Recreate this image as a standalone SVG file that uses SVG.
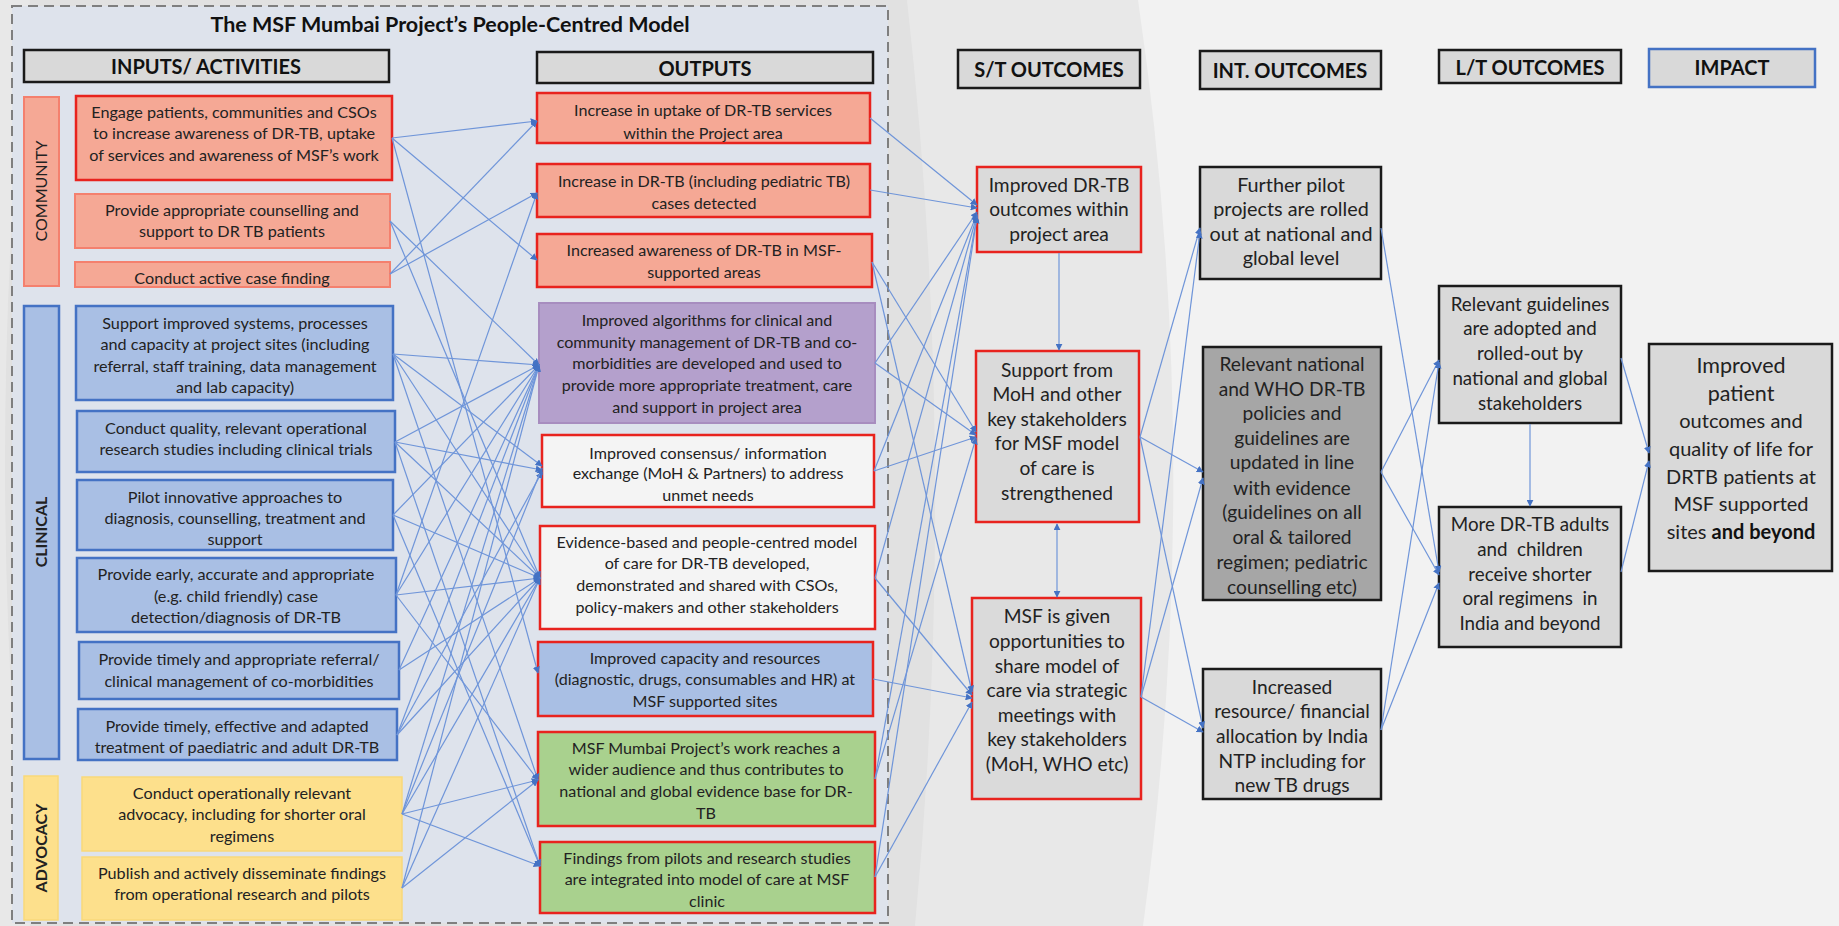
<svg xmlns="http://www.w3.org/2000/svg" width="1839" height="926" viewBox="0 0 1839 926">
<defs>
<marker id="ar" viewBox="0 0 10 10" refX="9" refY="5" markerWidth="7" markerHeight="7" orient="auto" markerUnits="userSpaceOnUse">
<path d="M0,0 L10,5 L0,10 Z" fill="#4472c4"/>
</marker>
<marker id="as" viewBox="0 0 10 10" refX="1" refY="5" markerWidth="7" markerHeight="7" orient="auto" markerUnits="userSpaceOnUse">
<path d="M10,0 L0,5 L10,10 Z" fill="#4472c4"/>
</marker>
<style>
text{font-family:Lato,"Liberation Sans",sans-serif;fill:#222;text-anchor:middle}
.t{font-size:16.2px}
.o{font-size:16.1px}
.m{font-size:19.2px}
.h{font-size:20px;font-weight:bold;fill:#111}
.side{font-size:16px}
.hdr{fill:#d9d9d9;stroke:#1a1a1a;stroke-width:2.5}
.com{fill:#f5a895;stroke:#f4806e;stroke-width:2}
.comr{fill:#f5a895;stroke:#e8231e;stroke-width:2.5}
.cli{fill:#a9bfe4;stroke:#4472c4;stroke-width:2.5}
.adv{fill:#fde08c;stroke:#f9d97a;stroke-width:1.5}
.pur{fill:#b4a0cc;stroke:#a78dbf;stroke-width:2}
.wr{fill:#f4f4f4;stroke:#e8231e;stroke-width:2.5}
.br{fill:#a9bfe4;stroke:#e8231e;stroke-width:2.5}
.gr{fill:#a9d18e;stroke:#e8231e;stroke-width:2.5}
.st{fill:#dadada;stroke:#e8231e;stroke-width:2.5}
.gk{fill:#d9d9d9;stroke:#1a1a1a;stroke-width:2.5}
.dk{fill:#a6a6a6;stroke:#1a1a1a;stroke-width:2.5}
#connectors line{stroke:#6f95d9;stroke-width:1.2;fill:none;marker-end:url(#ar)}
</style>
</defs>
<!-- background -->
<rect x="0" y="0" width="1839" height="926" fill="#f2f2f2"/>
<path d="M0,0 L1138,0 Q1206,463 1143,926 L0,926 Z" fill="#e8e8e8"/>
<path d="M30,0 L907,0 Q959,463 915,926 L30,926 Q-20,463 30,0 Z" fill="#e1e1e1"/>
<rect x="12" y="6" width="876" height="917" fill="#dee3ec" stroke="#7f7f7f" stroke-width="2" stroke-dasharray="10,6"/>
<text x="450" y="32" style="font-size:21.5px;font-weight:bold;fill:#111">The MSF Mumbai Project’s People-Centred Model</text>

<!-- headers -->
<g id="hdr-inputs"><rect x="24" y="50" width="365" height="32" class="hdr"/><text x="206" y="74" class="h">INPUTS/ ACTIVITIES</text></g>
<g id="hdr-outputs"><rect x="537" y="52" width="336" height="31" class="hdr"/><text x="705" y="76" class="h">OUTPUTS</text></g>
<g id="hdr-st"><rect x="958" y="50" width="182" height="38" class="hdr"/><text x="1049" y="77" class="h">S/T OUTCOMES</text></g>
<g id="hdr-int"><rect x="1200" y="51" width="181" height="38" class="hdr"/><text x="1290" y="78" class="h">INT. OUTCOMES</text></g>
<g id="hdr-lt"><rect x="1439" y="50" width="182" height="33" class="hdr"/><text x="1530" y="75" class="h">L/T OUTCOMES</text></g>
<g id="hdr-impact"><rect x="1649" y="49" width="166" height="38" fill="#d9d9d9" stroke="#4472c4" stroke-width="2.5"/><text x="1732" y="75" class="h">IMPACT</text></g>

<!-- side bars -->
<g id="bar-community"><rect x="24" y="97" width="35" height="189" class="com"/><text transform="translate(47,191) rotate(-90)" class="side">COMMUNITY</text></g>
<g id="bar-clinical"><rect x="24" y="306" width="35" height="453" class="cli"/><text transform="translate(47,532) rotate(-90)" class="side" style="font-weight:bold">CLINICAL</text></g>
<g id="bar-advocacy"><rect x="24" y="776" width="34" height="144" class="adv"/><text transform="translate(47,848) rotate(-90)" class="side" style="font-weight:bold">ADVOCACY</text></g>

<!-- inputs -->
<g id="a1"><rect x="76" y="96" width="316" height="84" class="comr"/><text class="t"><tspan x="234" y="118">Engage patients, communities and CSOs</tspan><tspan x="234" y="139">to increase awareness of DR-TB, uptake</tspan><tspan x="234" y="161">of services and awareness of MSF’s work</tspan></text></g>
<g id="a2"><rect x="75" y="194" width="315" height="54" class="com"/><text class="t"><tspan x="232" y="216">Provide appropriate counselling and</tspan><tspan x="232" y="237">support to DR TB patients</tspan></text></g>
<g id="a3"><rect x="75" y="262" width="315" height="25" class="com"/><text class="t"><tspan x="232" y="284">Conduct active case finding</tspan></text></g>
<g id="b1"><rect x="76" y="306" width="317" height="94" class="cli"/><text class="t"><tspan x="235" y="329">Support improved systems, processes</tspan><tspan x="235" y="350">and capacity at project sites (including</tspan><tspan x="235" y="372">referral, staff training, data management</tspan><tspan x="235" y="393">and lab capacity)</tspan></text></g>
<g id="b2"><rect x="77" y="411" width="318" height="61" class="cli"/><text class="t"><tspan x="236" y="434">Conduct quality, relevant operational</tspan><tspan x="236" y="455">research studies including clinical trials</tspan></text></g>
<g id="b3"><rect x="77" y="480" width="316" height="70" class="cli"/><text class="t"><tspan x="235" y="503">Pilot innovative approaches to</tspan><tspan x="235" y="524">diagnosis, counselling, treatment and</tspan><tspan x="235" y="545">support</tspan></text></g>
<g id="b4"><rect x="77" y="558" width="319" height="74" class="cli"/><text class="t"><tspan x="236" y="580">Provide early, accurate and appropriate</tspan><tspan x="236" y="602">(e.g. child friendly) case</tspan><tspan x="236" y="623">detection/diagnosis of DR-TB</tspan></text></g>
<g id="b5"><rect x="79" y="642" width="320" height="57" class="cli"/><text class="t"><tspan x="239" y="665">Provide timely and appropriate referral/</tspan><tspan x="239" y="687">clinical management of co-morbidities</tspan></text></g>
<g id="b6"><rect x="78" y="709" width="319" height="51" class="cli"/><text class="t"><tspan x="237" y="732">Provide timely, effective and adapted</tspan><tspan x="237" y="753">treatment of paediatric and adult DR-TB</tspan></text></g>
<g id="c1"><rect x="82" y="777" width="320" height="74" class="adv"/><text class="t"><tspan x="242" y="799">Conduct operationally relevant</tspan><tspan x="242" y="820">advocacy, including for shorter oral</tspan><tspan x="242" y="842">regimens</tspan></text></g>
<g id="c2"><rect x="82" y="857" width="320" height="63" class="adv"/><text class="t"><tspan x="242" y="879">Publish and actively disseminate findings</tspan><tspan x="242" y="900">from operational research and pilots</tspan></text></g>

<!-- outputs -->
<g id="o1"><rect x="537" y="93" width="333" height="50" class="comr"/><text class="o"><tspan x="703" y="116">Increase in uptake of DR-TB services</tspan><tspan x="703" y="139">within the Project area</tspan></text></g>
<g id="o2"><rect x="537" y="164" width="333" height="53" class="comr"/><text class="o"><tspan x="704" y="187">Increase in DR-TB (including pediatric TB)</tspan><tspan x="704" y="209">cases detected</tspan></text></g>
<g id="o3"><rect x="537" y="234" width="335" height="53" class="comr"/><text class="o"><tspan x="704" y="256">Increased awareness of DR-TB in MSF-</tspan><tspan x="704" y="278">supported areas</tspan></text></g>
<g id="o4"><rect x="539" y="303" width="336" height="120" class="pur"/><text class="o"><tspan x="707" y="326">Improved algorithms for clinical and</tspan><tspan x="707" y="348">community management of DR-TB and co-</tspan><tspan x="707" y="369">morbidities are developed and used to</tspan><tspan x="707" y="391">provide more appropriate treatment, care</tspan><tspan x="707" y="413">and support in project area</tspan></text></g>
<g id="o5"><rect x="542" y="435" width="332" height="72" class="wr"/><text class="o"><tspan x="708" y="459">Improved consensus/ information</tspan><tspan x="708" y="479">exchange (MoH &amp; Partners) to address</tspan><tspan x="708" y="501">unmet needs</tspan></text></g>
<g id="o6"><rect x="540" y="526" width="335" height="103" class="wr"/><text class="o"><tspan x="707" y="548">Evidence-based and people-centred model</tspan><tspan x="707" y="569">of care for DR-TB developed,</tspan><tspan x="707" y="591">demonstrated and shared with CSOs,</tspan><tspan x="707" y="613">policy-makers and other stakeholders</tspan></text></g>
<g id="o7"><rect x="538" y="642" width="335" height="74" class="br"/><text class="o"><tspan x="705" y="664">Improved capacity and resources</tspan><tspan x="705" y="685">(diagnostic, drugs, consumables and HR) at</tspan><tspan x="705" y="707">MSF supported sites</tspan></text></g>
<g id="o8"><rect x="538" y="732" width="337" height="94" class="gr"/><text class="o"><tspan x="706" y="754">MSF Mumbai Project’s work reaches a</tspan><tspan x="706" y="775">wider audience and thus contributes to</tspan><tspan x="706" y="797">national and global evidence base for DR-</tspan><tspan x="706" y="819">TB</tspan></text></g>
<g id="o9"><rect x="540" y="842" width="335" height="71" class="gr"/><text class="o"><tspan x="707" y="864">Findings from pilots and research studies</tspan><tspan x="707" y="885">are integrated into model of care at MSF</tspan><tspan x="707" y="907">clinic</tspan></text></g>

<!-- S/T outcomes -->
<g id="st1"><rect x="977" y="167" width="164" height="85" class="st"/><text class="m"><tspan x="1059" y="192">Improved DR-TB</tspan><tspan x="1059" y="216">outcomes within</tspan><tspan x="1059" y="241">project area</tspan></text></g>
<g id="st2"><rect x="976" y="351" width="163" height="171" class="st"/><text class="m"><tspan x="1057" y="377">Support from</tspan><tspan x="1057" y="401">MoH and other</tspan><tspan x="1057" y="426">key stakeholders</tspan><tspan x="1057" y="450">for MSF model</tspan><tspan x="1057" y="475">of care is</tspan><tspan x="1057" y="500">strengthened</tspan></text></g>
<g id="st3"><rect x="972" y="598" width="169" height="201" class="st"/><text class="m"><tspan x="1057" y="623">MSF is given</tspan><tspan x="1057" y="648">opportunities to</tspan><tspan x="1057" y="673">share model of</tspan><tspan x="1057" y="697">care via strategic</tspan><tspan x="1057" y="722">meetings with</tspan><tspan x="1057" y="746">key stakeholders</tspan><tspan x="1057" y="771">(MoH, WHO etc)</tspan></text></g>

<!-- INT outcomes -->
<g id="int1"><rect x="1200" y="167" width="181" height="112" class="gk"/><text class="m" style="font-size:19.8px"><tspan x="1291" y="192">Further pilot</tspan><tspan x="1291" y="216">projects are rolled</tspan><tspan x="1291" y="241">out at national and</tspan><tspan x="1291" y="265">global level</tspan></text></g>
<g id="int2"><rect x="1203" y="347" width="178" height="253" class="dk"/><text class="m"><tspan x="1292" y="371">Relevant national</tspan><tspan x="1292" y="396">and WHO DR-TB</tspan><tspan x="1292" y="420">policies and</tspan><tspan x="1292" y="445">guidelines are</tspan><tspan x="1292" y="469">updated in line</tspan><tspan x="1292" y="495">with evidence</tspan><tspan x="1292" y="519">(guidelines on all</tspan><tspan x="1292" y="544">oral &amp; tailored</tspan><tspan x="1292" y="569">regimen; pediatric</tspan><tspan x="1292" y="594">counselling etc)</tspan></text></g>
<g id="int3"><rect x="1203" y="669" width="178" height="130" class="gk"/><text class="m"><tspan x="1292" y="694">Increased</tspan><tspan x="1292" y="718">resource/ financial</tspan><tspan x="1292" y="743">allocation by India</tspan><tspan x="1292" y="768">NTP including for</tspan><tspan x="1292" y="792">new TB drugs</tspan></text></g>

<!-- L/T outcomes -->
<g id="lt1"><rect x="1439" y="286" width="182" height="137" class="gk"/><text class="m" style="font-size:18.8px"><tspan x="1530" y="311">Relevant guidelines</tspan><tspan x="1530" y="335">are adopted and</tspan><tspan x="1530" y="360">rolled-out by</tspan><tspan x="1530" y="385">national and global</tspan><tspan x="1530" y="410">stakeholders</tspan></text></g>
<g id="lt2"><rect x="1439" y="507" width="182" height="140" class="gk"/><text class="m" style="font-size:18.8px;white-space:pre"><tspan x="1530" y="531">More DR-TB adults</tspan><tspan x="1530" y="556">and  children</tspan><tspan x="1530" y="581">receive shorter</tspan><tspan x="1530" y="605">oral regimens  in</tspan><tspan x="1530" y="630">India and beyond</tspan></text></g>

<!-- impact -->
<g id="impact"><rect x="1649" y="344" width="183" height="227" class="gk"/><text style="font-size:20px"><tspan x="1741" y="373" style="font-size:21.5px">Improved</tspan><tspan x="1741" y="401" style="font-size:21.5px">patient</tspan><tspan x="1741" y="428">outcomes and</tspan><tspan x="1741" y="456">quality of life for</tspan><tspan x="1741" y="484">DRTB patients at</tspan><tspan x="1741" y="511">MSF supported</tspan><tspan x="1741" y="539">sites <tspan style="font-weight:bold;fill:#111">and beyond</tspan></tspan></text></g>

<!-- connectors -->
<g id="connectors">
<line x1="392" y1="138" x2="537" y2="121"/>
<line x1="392" y1="138" x2="537" y2="260"/>
<line x1="392" y1="138" x2="538" y2="673"/>
<line x1="390" y1="221" x2="539" y2="365"/>
<line x1="390" y1="221" x2="540" y2="578"/>
<line x1="390" y1="274" x2="537" y2="121"/>
<line x1="390" y1="274" x2="537" y2="193"/>
<line x1="393" y1="354" x2="539" y2="365"/>
<line x1="393" y1="354" x2="542" y2="466"/>
<line x1="393" y1="354" x2="540" y2="578"/>
<line x1="393" y1="354" x2="538" y2="780"/>
<line x1="395" y1="442" x2="539" y2="365"/>
<line x1="395" y1="442" x2="542" y2="470"/>
<line x1="395" y1="442" x2="540" y2="578"/>
<line x1="395" y1="442" x2="540" y2="866"/>
<line x1="393" y1="515" x2="539" y2="365"/>
<line x1="393" y1="515" x2="540" y2="578"/>
<line x1="393" y1="515" x2="540" y2="866"/>
<line x1="396" y1="595" x2="537" y2="193"/>
<line x1="396" y1="595" x2="539" y2="365"/>
<line x1="396" y1="595" x2="540" y2="578"/>
<line x1="396" y1="595" x2="538" y2="780"/>
<line x1="399" y1="670" x2="539" y2="365"/>
<line x1="399" y1="670" x2="540" y2="578"/>
<line x1="397" y1="735" x2="539" y2="365"/>
<line x1="397" y1="735" x2="542" y2="472"/>
<line x1="397" y1="735" x2="540" y2="578"/>
<line x1="402" y1="814" x2="539" y2="365"/>
<line x1="402" y1="814" x2="542" y2="468"/>
<line x1="402" y1="814" x2="540" y2="578"/>
<line x1="402" y1="814" x2="538" y2="780"/>
<line x1="402" y1="814" x2="540" y2="866"/>
<line x1="402" y1="888" x2="539" y2="365"/>
<line x1="402" y1="888" x2="540" y2="578"/>
<line x1="402" y1="888" x2="538" y2="780"/>

<line x1="870" y1="118" x2="977" y2="205"/>
<line x1="870" y1="190" x2="977" y2="208"/>
<line x1="872" y1="262" x2="976" y2="432"/>
<line x1="872" y1="262" x2="972" y2="692"/>
<line x1="875" y1="363" x2="977" y2="212"/>
<line x1="875" y1="363" x2="976" y2="435"/>
<line x1="874" y1="471" x2="976" y2="437"/>
<line x1="874" y1="471" x2="977" y2="214"/>
<line x1="875" y1="578" x2="977" y2="215"/>
<line x1="875" y1="578" x2="972" y2="695"/>
<line x1="873" y1="679" x2="972" y2="698"/>
<line x1="875" y1="779" x2="977" y2="216"/>
<line x1="875" y1="779" x2="976" y2="438"/>
<line x1="875" y1="877" x2="977" y2="217"/>
<line x1="875" y1="877" x2="972" y2="702"/>

<line x1="1059" y1="253" x2="1059" y2="350"/>
<line x1="1057" y1="524" x2="1057" y2="597" style="marker-start:url(#as)"/>

<line x1="1140" y1="437" x2="1200" y2="228"/>
<line x1="1140" y1="437" x2="1203" y2="472"/>
<line x1="1140" y1="437" x2="1203" y2="728"/>
<line x1="1141" y1="697" x2="1200" y2="232"/>
<line x1="1141" y1="697" x2="1203" y2="478"/>
<line x1="1141" y1="697" x2="1203" y2="732"/>

<line x1="1381" y1="228" x2="1439" y2="572"/>
<line x1="1381" y1="472" x2="1439" y2="360"/>
<line x1="1381" y1="472" x2="1439" y2="575"/>
<line x1="1381" y1="730" x2="1439" y2="362"/>
<line x1="1381" y1="730" x2="1439" y2="583"/>
<line x1="1530" y1="424" x2="1530" y2="506"/>
<line x1="1621" y1="358" x2="1649" y2="453"/>
<line x1="1621" y1="572" x2="1649" y2="461"/>
</g>
</svg>
